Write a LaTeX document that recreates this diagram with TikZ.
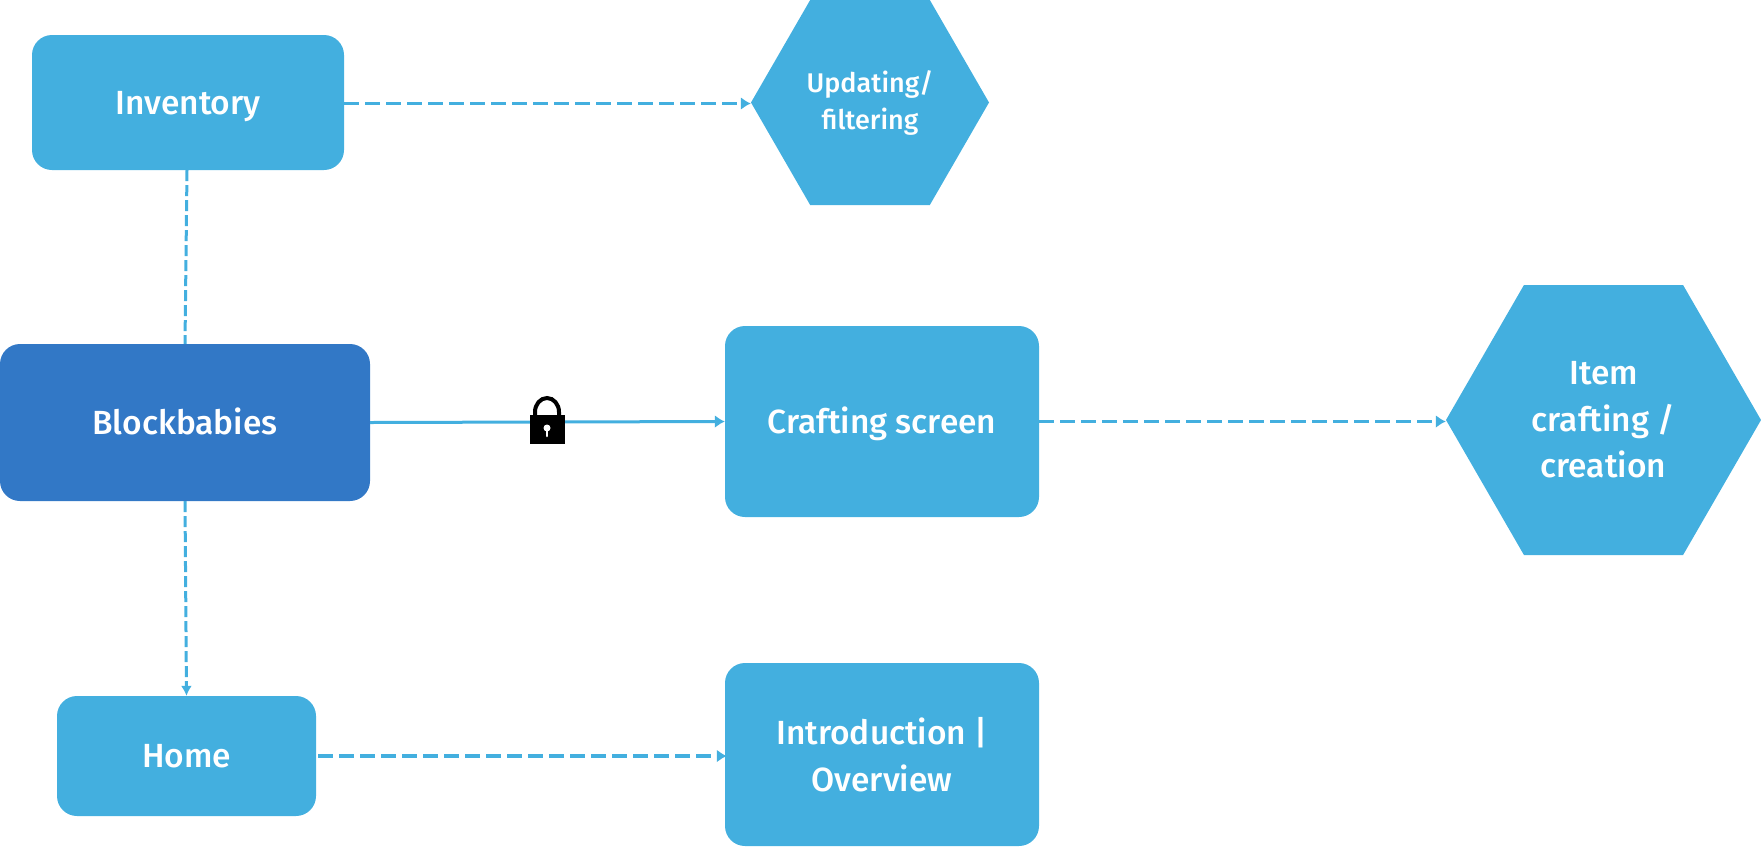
\documentclass[tikz,border=0pt]{standalone}
\usepackage{fontspec}
\setmainfont{Fira Sans}[UprightFont={* Medium}]
\usepackage{tikz}
\usetikzlibrary{shapes.symbols}
\usetikzlibrary{arrows.meta}
\definecolor{skyblue}{HTML}{43AFDF}
\definecolor{deepblue}{HTML}{3278C6}

\begin{document}
\begin{tikzpicture}[x=1pt,y=-1pt,
    screen/.style={rectangle, rounded corners=20pt, fill=skyblue, text=white, align=center,
      inner sep=0pt, font=\fontsize{33.5}{46.5}\selectfont},
    oneline/.style={text height=23pt, text depth=0pt},
    action/.style={signal, signal to=west and east, signal pointer angle=120, fill=skyblue,
      text=white, align=center, inner sep=0pt, font=\fontsize{33.5}{46.5}\selectfont},
    flow/.style={draw=skyblue, line width=3.5pt, dash pattern=on 15pt off 6pt, -{Latex[length=10pt,width=13pt]}},
    link/.style={draw=skyblue, line width=3pt, dash pattern=on 11pt off 4pt}]
  \useasboundingbox (0,0) rectangle (1761,847);
  \node [screen, oneline, minimum width=312pt, minimum height=135pt] (inventory) at (188,102.5) {Inventory};
  \node [screen, oneline, fill=deepblue, minimum width=370pt, minimum height=157pt] (blockbabies) at (185,422.5) {Blockbabies};
  \node [screen, oneline, minimum width=314pt, minimum height=191pt] (crafting) at (882,421.5) {Crafting screen};
  \node [screen, oneline, minimum width=259pt, minimum height=120pt] (home) at (186.5,756) {Home};
  \node [screen, minimum width=314pt, minimum height=183pt] (intro) at (882,754.5) {Introduction |\\Overview};
  \node [action, inner xsep=-4pt, minimum width=238pt, minimum height=205pt, font=\fontsize{27}{37}\selectfont] (updating) at (870,102.5) {Updating/\\filtering};
  \node [action, minimum width=315pt, minimum height=270pt] (item) at (1603.5,420) {Item\\crafting /\\creation};
  \draw [flow] ([yshift=-1pt]inventory.east) -- ([yshift=-1pt]updating.west);
  \draw [link] ([xshift=-1pt]inventory.south) -- (blockbabies.north);
  \draw [draw=skyblue, line width=3pt, -{Latex[length=10pt,width=13pt]}] (blockbabies.east) -- (crafting.west);
  \draw [flow] (crafting.east) -- (crafting.east -| item.west);
  \draw [link, -{Latex[length=10pt,width=11pt]}] (blockbabies.south) -- (home.north);
  \draw [flow] ([xshift=2pt]home.east) -- ([xshift=2pt]home.east -| intro.west);
  \fill (529.5,415) rectangle (565,444);
  \draw [line width=4pt] (535,416) -- (535,412) arc (180:360:12 and 14) -- (559,416);
  \fill [white] (547,428) circle (3.5pt);
  \draw [white, line width=2.5pt, line cap=round] (547,428) -- (547,436);
\end{tikzpicture}
\end{document}
